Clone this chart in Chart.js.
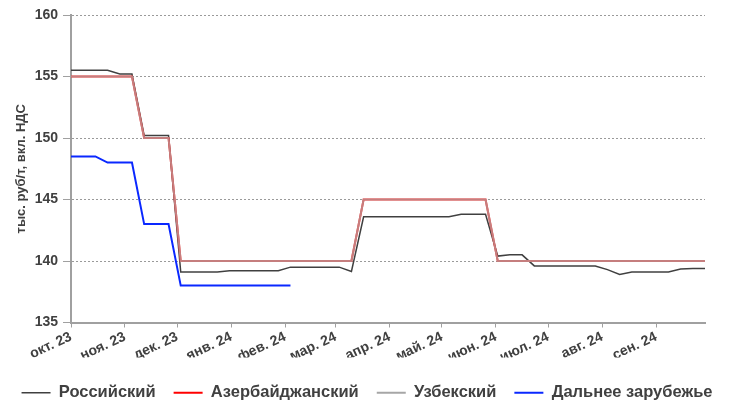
<!DOCTYPE html>
<html>
<head>
<meta charset="utf-8">
<script src="https://cdn.jsdelivr.net/npm/chart.js@4.4.1/dist/chart.umd.min.js"></script>
<style>
  html, body { margin: 0; padding: 0; background: #fff; }
  #wrap { width: 734px; height: 402px; }
</style>
</head>
<body>
<div id="wrap"><canvas id="chart" width="734" height="402"></canvas></div>
<script>
// weekly price points
const weeks = [
  "2023-10-01", "2023-10-08", "2023-10-15", "2023-10-22", "2023-10-29",
  "2023-11-05", "2023-11-12", "2023-11-19", "2023-11-26",
  "2023-12-03", "2023-12-10", "2023-12-17", "2023-12-24", "2023-12-31",
  "2024-01-07", "2024-01-14", "2024-01-21", "2024-01-28",
  "2024-02-04", "2024-02-11", "2024-02-18", "2024-02-25",
  "2024-03-03", "2024-03-10", "2024-03-17", "2024-03-24", "2024-03-31",
  "2024-04-07", "2024-04-14", "2024-04-21", "2024-04-28",
  "2024-05-05", "2024-05-12", "2024-05-19", "2024-05-26",
  "2024-06-02", "2024-06-09", "2024-06-16", "2024-06-23", "2024-06-30",
  "2024-07-07", "2024-07-14", "2024-07-21", "2024-07-28",
  "2024-08-04", "2024-08-11", "2024-08-18", "2024-08-25",
  "2024-09-01", "2024-09-08", "2024-09-15", "2024-09-22", "2024-09-29"
];

const monthStarts = [
  "2023-10-01", "2023-11-01", "2023-12-01", "2024-01-01", "2024-02-01", "2024-03-01",
  "2024-04-01", "2024-05-01", "2024-06-01", "2024-07-01", "2024-08-01", "2024-09-01"
];
const monthLabels = [
  "окт. 23", "ноя. 23", "дек. 23", "янв. 24", "фев. 24", "мар. 24",
  "апр. 24", "май. 24", "июн. 24", "июл. 24", "авг. 24", "сен. 24"
];

const russian = [
  155.5, 155.5, 155.5, 155.5, 155.2, 155.2, 150.2, 150.2, 150.2,
  139.1, 139.1, 139.1, 139.1, 139.2, 139.2, 139.2, 139.2, 139.2,
  139.5, 139.5, 139.5, 139.5, 139.5, 139.15,
  143.6, 143.6, 143.6, 143.6, 143.6, 143.6, 143.6, 143.6, 143.8, 143.8, 143.8,
  140.4, 140.5, 140.5, 139.6, 139.6, 139.6, 139.6, 139.6, 139.6,
  139.3, 138.9, 139.1, 139.1, 139.1, 139.1, 139.35, 139.4, 139.4
];
const azerbaijan = [
  155, 155, 155, 155, 155, 155, 150, 150, 150,
  140, 140, 140, 140, 140, 140, 140, 140, 140,
  140, 140, 140, 140, 140, 140,
  145, 145, 145, 145, 145, 145, 145, 145, 145, 145, 145,
  140, 140, 140, 140, 140, 140, 140, 140, 140,
  140, 140, 140, 140, 140, 140, 140, 140, 140
];
const uzbek = [
  155, 155, 155, 155, 155, 155, 150, 150, 150,
  140, 140, 140, 140, 140, 140, 140, 140, 140,
  140, 140, 140, 140, 140, 140,
  145, 145, 145, 145, 145, 145, 145, 145, 145, 145, 145,
  140, 140, 140, 140, 140, 140, 140, 140, 140,
  140, 140, 140, 140, 140, 140, 140, 140, 140
];
const abroad = [
  148.5, 148.5, 148.5, 148, 148, 148, 143, 143, 143,
  138, 138, 138, 138, 138, 138, 138, 138, 138, 138
];

const yMin = 135, yMax = 160, yStep = 5;

const dayOffset = d => (Date.parse(d) - Date.parse(weeks[0])) / 86400000;
const points = vals => weeks.map((d, i) => ({ x: dayOffset(d), y: i < vals.length ? vals[i] : null }));

const textColor = "#404040";
const axisColor = "#a0a0a0";
const legendColors = ["#404040", "#ff0000", "#a6a6a6", "#0a28ff"];
Chart.defaults.font.family = "'Liberation Sans', Arial, sans-serif";
Chart.defaults.font.weight = "bold";
Chart.defaults.color = textColor;

// push the legend row a little lower, as in the original
const legendNudge = {
  id: "legendNudge",
  afterLayout(chart) {
    chart.legend.top += 9;
    chart.legend.bottom += 9;
  }
};

new Chart(document.getElementById("chart"), {
  type: "line",
  data: {
    datasets: [
      { label: "Российский", data: points(russian), borderColor: "#404040", borderWidth: 1.5, order: 3 },
      { label: "Азербайджанский", data: points(azerbaijan), borderColor: "#ff0000", borderWidth: 2, order: 2 },
      { label: "Узбекский", data: points(uzbek), borderColor: "rgba(175,175,175,0.72)", borderWidth: 2, order: 1 },
      { label: "Дальнее зарубежье", data: points(abroad), borderColor: "#0a28ff", borderWidth: 2, order: 0 }
    ]
  },
  options: {
    responsive: false,
    animation: false,
    events: [],
    layout: { padding: { top: 15, left: 0, right: 0, bottom: 0 } },
    elements: {
      point: { radius: 0 },
      line: { tension: 0, fill: false }
    },
    scales: {
      x: {
        type: "linear",
        min: 0,
        max: dayOffset(weeks[weeks.length - 1]),
        afterBuildTicks: axis => {
          axis.ticks = monthStarts.map(d => ({ value: dayOffset(d) }));
        },
        afterFit: scale => {
          scale.height = 35;
          scale.paddingRight = 29;
        },
        ticks: {
          autoSkip: false,
          minRotation: 25,
          maxRotation: 25,
          padding: 1,
          font: { size: 14, weight: "bold" },
          callback: (value, index) => monthLabels[index]
        },
        grid: {
          drawOnChartArea: false,
          drawTicks: true,
          tickLength: 5,
          tickColor: axisColor
        },
        border: { display: true, color: axisColor, width: 2 }
      },
      y: {
        min: yMin,
        max: yMax,
        afterFit: scale => { scale.width = 71; },
        ticks: {
          stepSize: yStep,
          padding: 5,
          font: { size: 14, weight: "bold" }
        },
        grid: {
          color: "#9a9a9a",
          lineWidth: 1,
          tickBorderDash: [],
          tickColor: axisColor,
          tickLength: 8
        },
        border: { display: true, color: axisColor, width: 2, dash: [2, 2] },
        title: {
          display: true,
          text: "тыс. руб/т, вкл. НДС",
          color: textColor,
          font: { size: 13, weight: "bold" },
          padding: { top: 14, bottom: 0 }
        }
      }
    },
    plugins: {
      tooltip: { enabled: false },
      legend: {
        position: "bottom",
        labels: {
          usePointStyle: true,
          pointStyle: "line",
          pointStyleWidth: 29,
          padding: 18,
          color: textColor,
          font: { size: 16.5, weight: "bold" },
          sort: (a, b) => a.datasetIndex - b.datasetIndex,
          generateLabels: chart =>
            Chart.defaults.plugins.legend.labels.generateLabels(chart).map(item => {
              item.strokeStyle = legendColors[item.datasetIndex];
              return item;
            })
        }
      }
    }
  },
  plugins: [legendNudge]
});
</script>
</body>
</html>
